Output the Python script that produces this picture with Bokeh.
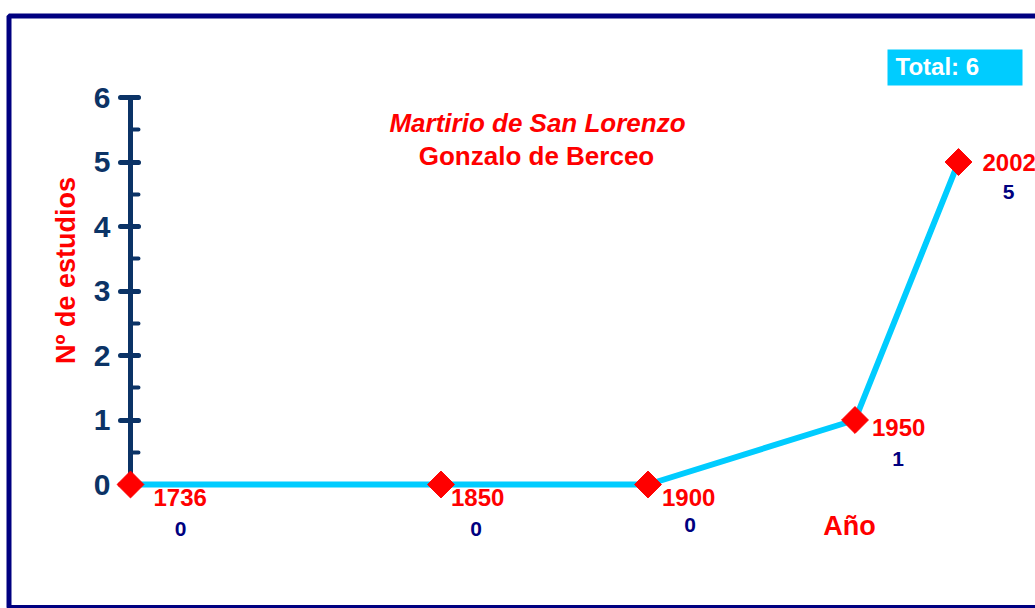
import math
from bokeh.plotting import figure
from bokeh.models import (ColumnDataSource, LinearAxis, SingleIntervalTicker, Range1d,
                          Label, BoxAnnotation)
from bokeh.core.properties import value
from bokeh.embed import file_html
from bokeh.resources import INLINE

# ---- data ----
years = ["1736", "1850", "1900", "1950", "2002"]
x_slot = [0, 3, 5, 7, 8]          # horizontal slot of each year on the chart
studies = [0, 0, 0, 1, 5]
total_label = "Total: 6"
title_line1 = "Martirio de San Lorenzo"
title_line2 = "Gonzalo de Berceo"
y_label = "Nº de estudios"
x_label = "Año"
y_ticks = [0, 1, 2, 3, 4, 5, 6]

# ---- label layout (screen offsets, px) ----
year_dx = [23, 10, 14, 17, 24]
year_dy = [13, 13, 13, 7, 0]
val_dx = [50, 35, 42, 43, 50]
val_dy = [44, 44, 40, 39, 30]

FONT = "Liberation Sans"
RED = "#FF0000"
NAVY = "#000080"
AXIS = "#0B3366"
CYAN = "#00CCFF"

p = figure(width=1035, height=608, output_backend="svg", toolbar_location=None,
           x_axis_location=None, y_axis_location=None,
           x_range=Range1d(-1.25604, 8.74396), y_range=Range1d(-1.92248, 7.50388),
           min_border_left=0, min_border_right=0, min_border_bottom=0, min_border_top=0)
p.grid.visible = False
p.background_fill_color = "white"
p.border_fill_color = "white"
p.outline_line_color = None


def px_x(px):
    return (px - 130) / 103.5


def px_y(py):
    return (484 - py) / 64.5


# outer frame of the chart
p.add_layout(BoxAnnotation(left=px_x(8.5), right=px_x(1100), top=px_y(15.5), bottom=px_y(607),
                           fill_alpha=0, line_color=NAVY, line_alpha=1, line_width=5))

yaxis = LinearAxis(fixed_location=0, bounds=(min(y_ticks), max(y_ticks)),
                   ticker=SingleIntervalTicker(interval=1, num_minor_ticks=2))
yaxis.axis_line_color = AXIS
yaxis.axis_line_width = 5
yaxis.major_tick_line_color = AXIS
yaxis.major_tick_line_width = 5
yaxis.major_tick_line_cap = "round"
yaxis.major_tick_out = 10
yaxis.major_tick_in = 8
yaxis.minor_tick_line_color = AXIS
yaxis.minor_tick_line_width = 4
yaxis.minor_tick_line_cap = "round"
yaxis.minor_tick_out = 0
yaxis.minor_tick_in = 8
yaxis.major_label_text_font = FONT
yaxis.major_label_text_font_style = "bold"
yaxis.major_label_text_font_size = "30px"
yaxis.major_label_text_color = AXIS
yaxis.major_label_standoff = 10
p.add_layout(yaxis, "left")

src = ColumnDataSource(dict(x=x_slot, y=studies, year=years,
                            val=[str(v) for v in studies],
                            ydx=year_dx, ydy=year_dy, vdx=val_dx, vdy=val_dy))

p.line("x", "y", source=src, line_color=CYAN, line_width=6)
p.scatter("x", "y", source=src, marker="square", size=19, angle=math.pi / 4,
          fill_color=RED, line_color=RED, level="overlay")

p.text("x", "y", text="year", source=src, x_offset="ydx", y_offset="ydy",
       text_font=value(FONT), text_font_style="bold", text_font_size="24px",
       text_color=RED, text_align="left", text_baseline="middle")
p.text("x", "y", text="val", source=src, x_offset="vdx", y_offset="vdy",
       text_font=value(FONT), text_font_style="bold", text_font_size="21px",
       text_color=NAVY, text_align="center", text_baseline="middle")

p.add_layout(Label(x=px_x(537), y=px_y(122), text=title_line1, text_font=FONT,
                   text_font_style="bold italic", text_font_size="26px", text_color=RED,
                   text_align="center", text_baseline="middle"))
p.add_layout(Label(x=px_x(536), y=px_y(155), text=title_line2, text_font=FONT,
                   text_font_style="bold", text_font_size="26px", text_color=RED,
                   text_align="center", text_baseline="middle"))
p.add_layout(Label(x=px_x(65), y=px_y(270), text=y_label, angle=math.pi / 2,
                   text_font=FONT, text_font_style="bold", text_font_size="27px",
                   text_color=RED, text_align="center", text_baseline="middle"))
p.add_layout(Label(x=px_x(849), y=px_y(525), text=x_label, text_font=FONT,
                   text_font_style="bold", text_font_size="27px", text_color=RED,
                   text_align="center", text_baseline="middle"))

p.add_layout(BoxAnnotation(left=px_x(887), right=px_x(1022), top=px_y(49), bottom=px_y(85),
                           fill_color=CYAN, fill_alpha=1, line_alpha=0))
p.add_layout(Label(x=px_x(895), y=px_y(66), text=total_label, text_font=FONT,
                   text_font_style="bold", text_font_size="24px", text_color="white",
                   text_align="left", text_baseline="middle"))

open("out.html", "w").write(file_html(p, INLINE))
